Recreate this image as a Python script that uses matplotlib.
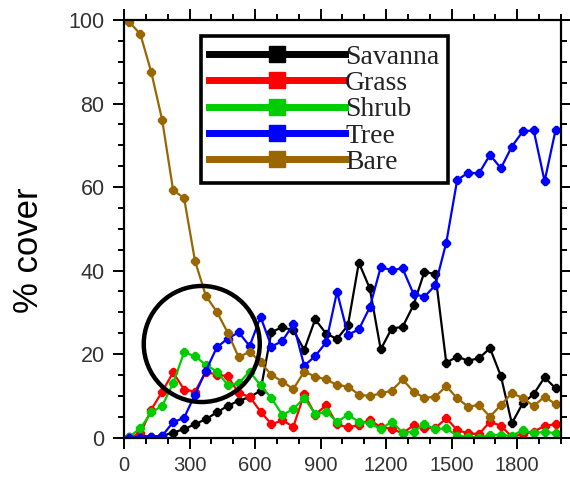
import numpy as np
import matplotlib
matplotlib.use("Agg")
import matplotlib.pyplot as plt
from matplotlib.lines import Line2D
from matplotlib.patches import Ellipse
from matplotlib.ticker import MultipleLocator

# ============================================
# Data (one point every 50 years)
# ============================================
years = np.arange(25, 2000, 50)

savanna = [0.2, 0.4, 0.2, 0.4, 1.2, 2.0, 3.2, 4.4, 6.0, 7.6,
           8.8, 9.7, 11.2, 25.3, 26.4, 25.7, 21.0, 28.3, 24.9, 23.6,
           26.9, 41.9, 35.7, 21.1, 26.1, 26.5, 31.7, 39.7, 39.1, 17.9,
           19.4, 18.4, 19.0, 21.4, 14.7, 3.4, 8.2, 10.4, 14.4, 11.8]
grass = [0.0, 1.0, 6.7, 11.0, 15.6, 11.5, 11.0, 15.8, 15.0, 14.7,
         10.6, 9.8, 6.2, 3.2, 4.1, 2.6, 10.4, 5.5, 7.7, 3.2,
         2.4, 3.0, 4.3, 2.4, 2.1, 1.0, 2.9, 2.3, 2.3, 4.6,
         1.8, 1.0, 0.8, 3.8, 2.8, 0.2, 0.8, 1.4, 2.8, 3.2]
shrub = [0.2, 2.2, 6.0, 7.6, 13.0, 20.4, 19.5, 17.4, 15.8, 12.6,
         13.0, 15.8, 12.5, 9.4, 5.4, 6.8, 9.5, 5.6, 6.2, 3.8,
         5.4, 3.8, 3.4, 2.0, 3.8, 1.2, 1.4, 3.2, 2.0, 2.2,
         0.4, 0.2, 0.0, 0.6, 0.6, 0.4, 1.8, 1.0, 1.4, 1.0]
tree = [0.0, 0.0, 0.1, 0.4, 3.7, 4.7, 10.3, 16.0, 21.6, 23.7,
        25.2, 21.9, 28.9, 21.8, 23.1, 27.2, 17.2, 19.5, 22.8, 34.9,
        24.6, 25.9, 31.2, 40.8, 40.1, 40.5, 34.4, 33.7, 36.5, 46.7,
        61.7, 63.4, 63.3, 67.7, 64.5, 69.7, 73.3, 73.6, 61.4, 73.6]
bare = [99.5, 96.6, 87.5, 76.0, 59.2, 57.4, 42.3, 33.9, 30.1, 25.1,
        19.2, 20.6, 18.0, 15.0, 13.4, 11.6, 15.8, 14.6, 13.9, 12.6,
        12.2, 10.3, 9.9, 10.6, 11.2, 13.9, 11.0, 9.5, 9.8, 12.3,
        9.4, 7.4, 7.8, 5.0, 7.8, 10.6, 9.5, 7.5, 9.8, 8.0]

labels = ["Savanna", "Grass", "Shrub", "Tree", "Bare"]
colors = ["#000000", "#ff0000", "#00cc00", "#0000ff", "#996600"]
series = [savanna, grass, shrub, tree, bare]

# ============================================
# Plot
# ============================================
fig = plt.figure(figsize=(5.7, 4.79), dpi=100)
ax = fig.add_axes([0.2175, 0.0866, 0.7667, 0.8716])

for vals, col in zip(series, colors):
    ax.plot(years, vals, color=col, lw=1.6, marker="8", ms=5.5, mec=col)

# circle highlighting the early crossover
circ = Ellipse((356, 22.4), width=531, height=27.8, fill=False,
               ec="black", lw=3.2, zorder=5)
ax.add_patch(circ)

ax.set_xlim(0, 2000)
ax.set_ylim(0, 100)
ax.xaxis.set_major_locator(MultipleLocator(300))
ax.xaxis.set_minor_locator(MultipleLocator(100))
ax.yaxis.set_major_locator(MultipleLocator(20))
ax.yaxis.set_minor_locator(MultipleLocator(5))

for s in ax.spines.values():
    s.set_linewidth(1.6)
ax.tick_params(which="both", direction="out", top=True, right=True,
               width=1.4, labelsize=14.5, colors="black")
ax.tick_params(which="major", length=8, pad=5)
ax.tick_params(which="minor", length=4)
ax.tick_params(axis="y", which="major", labelsize=15.5, pad=6)
for lab in ax.get_xticklabels() + ax.get_yticklabels():
    lab.set_fontfamily("Liberation Sans")
    lab.set_color("#333333")

fig.text(29 / 570, 1 - 250 / 479, "% cover", rotation=90, ha="center",
         va="center", fontsize=25, family="Liberation Sans")

handles = [Line2D([0], [0], color=c, lw=5, marker="s", ms=11, mec=c)
           for c in colors]
leg = ax.legend(handles, labels, loc="upper left",
                bbox_to_anchor=(0.1755, 0.9617), borderaxespad=0,
                numpoints=1, handlelength=4.9, handletextpad=0.0,
                labelspacing=0.03, borderpad=0.3, fancybox=False,
                framealpha=1, prop={"family": "Liberation Serif", "size": 20})
leg.get_frame().set_edgecolor("black")
leg.get_frame().set_linewidth(2.6)
for t in leg.get_texts():
    t.set_color("#222222")

fig.savefig("out.png", dpi=100)
